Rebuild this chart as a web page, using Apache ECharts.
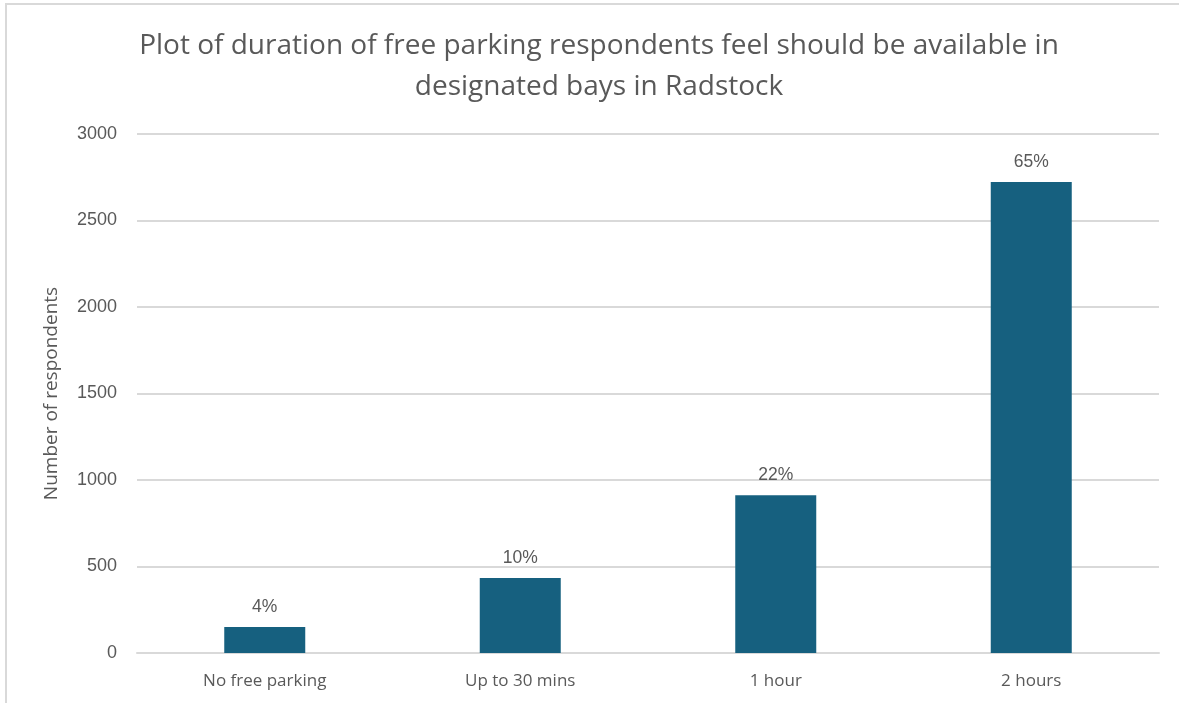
<!DOCTYPE html>
<html>
<head>
<meta charset="utf-8">
<script src="https://cdn.jsdelivr.net/npm/echarts@6/dist/echarts.min.js"></script>
<style>
  html, body { margin: 0; padding: 0; background: #fff; }
  #frame {
    position: absolute; left: 5px; top: 3px; width: 1174px; height: 700px;
    border-top: 2px solid #d9d9d9; border-left: 2px solid #d9d9d9;
  }
  #myChart { position: absolute; left: 0; top: 0; width: 1179px; height: 703px; }
</style>
</head>
<body>
<div id="frame"></div>
<div id="myChart"></div>
<script>
// 类别与数据
var categories = ['No free parking', 'Up to 30 mins', '1 hour', '2 hours'];
var respondents = [150, 433, 912, 2722];
var percentLabels = ['4%', '10%', '22%', '65%'];
var yTicks = { min: 0, max: 3000, interval: 500 };

var myChart = echarts.init(document.getElementById('myChart'));
var option = {
  animation: false,
  title: {
    text: 'Plot of duration of free parking respondents feel should be available in\ndesignated bays in Radstock',
    left: 594,
    top: 21,
    textAlign: 'center',
    textStyle: {
      fontFamily: 'Open Sans',
      fontSize: 28,
      fontWeight: 'normal',
      color: '#595959',
      lineHeight: 41
    }
  },
  grid: {
    left: 137,
    right: 20,
    top: 134,
    bottom: 50
  },
  xAxis: {
    type: 'category',
    data: categories,
    axisTick: { show: false },
    axisLine: { lineStyle: { color: '#d9d9d9', width: 2 } },
    axisLabel: {
      fontFamily: 'Open Sans',
      fontSize: 17,
      color: '#595959',
      margin: 20
    }
  },
  yAxis: {
    type: 'value',
    min: yTicks.min,
    max: yTicks.max,
    interval: yTicks.interval,
    name: 'Number of respondents',
    nameLocation: 'middle',
    nameGap: 76,
    nameTextStyle: {
      fontFamily: 'Open Sans',
      fontSize: 19,
      color: '#595959'
    },
    axisLine: { show: false },
    axisTick: { show: false },
    splitLine: { lineStyle: { color: '#d9d9d9', width: 2 } },
    axisLabel: {
      fontFamily: 'Liberation Sans',
      fontSize: 18,
      color: '#595959',
      margin: 20,
      formatter: function (v) { return String(v); }
    }
  },
  series: [
    {
      type: 'bar',
      data: respondents,
      barWidth: 81,
      itemStyle: { color: '#16607f' },
      label: {
        show: true,
        position: 'top',
        distance: 11,
        fontFamily: 'Liberation Sans',
        fontSize: 17.5,
        color: '#595959',
        formatter: function (p) { return percentLabels[p.dataIndex]; }
      }
    }
  ]
};
myChart.setOption(option);
</script>
</body>
</html>
